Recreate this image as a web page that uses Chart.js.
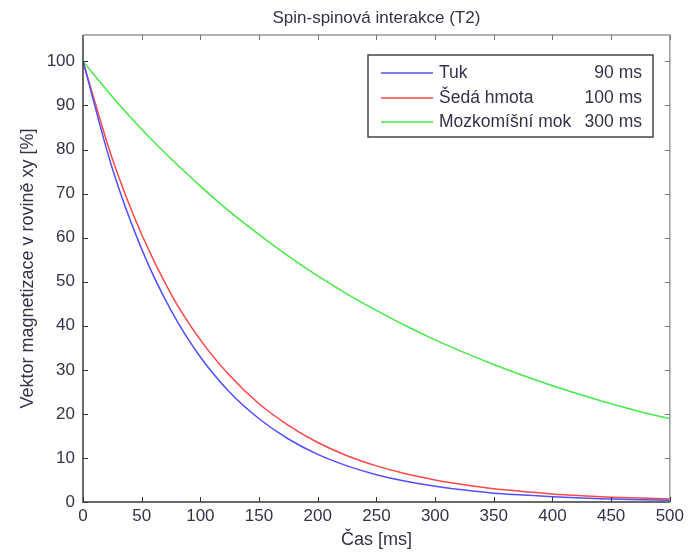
<!DOCTYPE html>
<html>
<head>
<meta charset="utf-8">
<script src="https://cdn.jsdelivr.net/npm/chart.js@4.4.1/dist/chart.umd.min.js"></script>
<style>
  html, body { margin: 0; padding: 0; background: #fff; }
  #wrap { width: 688px; height: 552px; }
</style>
</head>
<body>
<div id="wrap"><canvas id="t2Chart" width="688" height="552"></canvas></div>
<script>
// time axis [ms]
const casMs = [0, 25, 50, 75, 100, 125, 150, 175, 200, 225, 250, 275, 300, 325, 350, 375, 400, 425, 450, 475, 500];

// magnetization in xy plane [%]
const tuk = [100, 75.7, 57.4, 43.5, 32.9, 24.9, 18.9, 14.3, 10.8, 8.2, 6.2, 4.7, 3.6, 2.7, 2.0, 1.6, 1.2, 0.9, 0.7, 0.5, 0.4];
const sedaHmota = [100, 77.9, 60.7, 47.2, 36.8, 28.7, 22.3, 17.4, 13.5, 10.5, 8.2, 6.4, 5.0, 3.9, 3.0, 2.4, 1.8, 1.4, 1.1, 0.9, 0.7];
const mok = [100, 92.0, 84.6, 77.9, 71.7, 65.9, 60.7, 55.8, 51.3, 47.2, 43.5, 40.0, 36.8, 33.9, 31.2, 28.7, 26.4, 24.3, 22.3, 20.5, 18.9];

const seriesNames = ["Tuk", "Šedá hmota", "Mozkomíšní mok"];
const seriesT2 = ["90 ms", "100 ms", "300 ms"];
const seriesColors = ["rgb(80,80,255)", "rgb(255,70,70)", "rgb(70,235,70)"];

const xTicks = [0, 50, 100, 150, 200, 250, 300, 350, 400, 450, 500];
const yTicks = [0, 10, 20, 30, 40, 50, 60, 70, 80, 90, 100];

const FONT = "'Liberation Sans', Arial, sans-serif";
const TEXT_COLOR = "#33334a";

function toPoints(ys) {
  return casMs.map((x, i) => ({ x: x, y: ys[i] }));
}

/* =========================
   MATLAB-LIKE FRAME, TICKS, TITLE, LEGEND
========================= */

const matlabFrame = {
  id: "matlabFrame",
  afterDraw(chart) {
    const ctx = chart.ctx;
    const a = chart.chartArea;
    const sx = chart.scales.x;
    const sy = chart.scales.y;
    const tl = 5;

    ctx.save();
    // box: top/right lighter, bottom/left darker
    ctx.lineWidth = 1.5;
    ctx.strokeStyle = "#9a9a9a";
    ctx.beginPath();
    ctx.moveTo(a.left, a.top);
    ctx.lineTo(a.right, a.top);
    ctx.lineTo(a.right, a.bottom);
    ctx.stroke();
    ctx.strokeStyle = "#3a3a3a";
    ctx.beginPath();
    ctx.moveTo(a.left, a.top);
    ctx.lineTo(a.left, a.bottom);
    ctx.lineTo(a.right, a.bottom);
    ctx.stroke();

    // inward ticks
    ctx.lineWidth = 1;
    xTicks.forEach((v) => {
      const px = Math.round(sx.getPixelForValue(v)) + 0.5;
      ctx.strokeStyle = "#333";
      ctx.beginPath();
      ctx.moveTo(px, a.bottom);
      ctx.lineTo(px, a.bottom - tl);
      ctx.stroke();
      ctx.strokeStyle = "#777";
      ctx.beginPath();
      ctx.moveTo(px, a.top);
      ctx.lineTo(px, a.top + tl);
      ctx.stroke();
    });
    yTicks.forEach((v) => {
      const py = Math.round(sy.getPixelForValue(v)) + 0.5;
      ctx.strokeStyle = "#333";
      ctx.beginPath();
      ctx.moveTo(a.left, py);
      ctx.lineTo(a.left + tl, py);
      ctx.stroke();
      ctx.strokeStyle = "#777";
      ctx.beginPath();
      ctx.moveTo(a.right, py);
      ctx.lineTo(a.right - tl, py);
      ctx.stroke();
    });

    // title, centred over the plot area
    ctx.fillStyle = TEXT_COLOR;
    ctx.font = "17px " + FONT;
    ctx.textAlign = "center";
    ctx.textBaseline = "middle";
    ctx.fillText("Spin-spinová interakce (T2)", (a.left + a.right) / 2, 18);

    // legend box inside top-right
    const lx = 368, ly = 55, lw = 285, lh = 82;
    ctx.fillStyle = "#fff";
    ctx.fillRect(lx, ly, lw, lh);
    ctx.strokeStyle = "#444";
    ctx.lineWidth = 1.5;
    ctx.strokeRect(lx, ly, lw, lh);

    const rowY = [73, 98, 122];
    seriesNames.forEach((name, i) => {
      ctx.strokeStyle = seriesColors[i];
      ctx.lineWidth = 1.5;
      ctx.beginPath();
      ctx.moveTo(381, rowY[i]);
      ctx.lineTo(433, rowY[i]);
      ctx.stroke();
      ctx.fillStyle = TEXT_COLOR;
      ctx.font = "17.5px " + FONT;
      ctx.textBaseline = "middle";
      ctx.textAlign = "left";
      ctx.fillText(name, 439, rowY[i]);
      ctx.textAlign = "right";
      ctx.fillText(seriesT2[i], 642, rowY[i]);
    });
    ctx.restore();
  },
};

const ctx = document.getElementById("t2Chart").getContext("2d");

new Chart(ctx, {
  type: "scatter",
  data: {
    datasets: [tuk, sedaHmota, mok].map((ys, i) => ({
      label: seriesNames[i],
      data: toPoints(ys),
      borderColor: seriesColors[i],
      backgroundColor: seriesColors[i],
      borderWidth: 1.5,
      showLine: true,
      pointRadius: 0,
      cubicInterpolationMode: "monotone",
    })),
  },
  options: {
    responsive: false,
    animation: false,
    layout: { padding: { top: 35, right: 18, left: 0, bottom: 0 } },
    plugins: {
      legend: { display: false },
      title: { display: false },
      tooltip: { enabled: false },
    },
    scales: {
      x: {
        type: "linear",
        min: 0,
        max: 500,
        afterBuildTicks: (s) => { s.ticks = xTicks.map((v) => ({ value: v })); },
        afterFit: (s) => { s.height = 50; },
        grid: { display: false, drawTicks: false },
        border: { display: false },
        ticks: { color: TEXT_COLOR, font: { family: FONT, size: 17 }, padding: 4, maxRotation: 0, autoSkip: false },
        title: { display: true, text: "Čas [ms]", color: TEXT_COLOR, font: { family: FONT, size: 18 }, padding: { top: 0, bottom: 1 } },
      },
      y: {
        type: "linear",
        min: 0,
        max: 106,
        afterBuildTicks: (s) => { s.ticks = yTicks.map((v) => ({ value: v })); },
        afterFit: (s) => { s.width = 83; },
        grid: { display: false, drawTicks: false },
        border: { display: false },
        ticks: { color: TEXT_COLOR, font: { family: FONT, size: 17 }, padding: 8, autoSkip: false },
        title: { display: true, text: "Vektor magnetizace v rovině xy [%]", color: TEXT_COLOR, font: { family: FONT, size: 18 }, padding: { top: 17, bottom: 0 } },
      },
    },
  },
  plugins: [matlabFrame],
});
</script>
</body>
</html>
